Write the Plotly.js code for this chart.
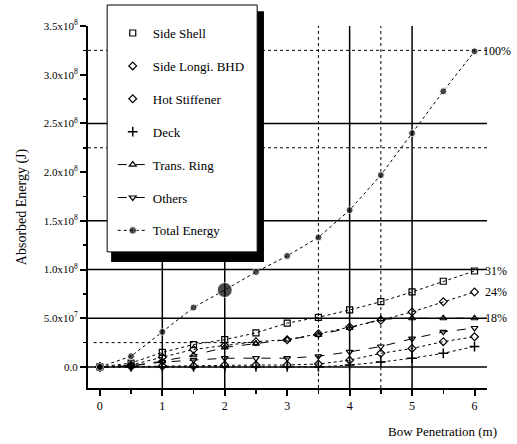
<!DOCTYPE html>
<html>
<head>
<meta charset="utf-8">
<script src="https://cdn.plot.ly/plotly-3.0.1.min.js"></script>
<style>html,body{margin:0;padding:0;background:#fff;}#chart{width:517px;height:444px;}</style>
</head>
<body>
<div id="chart"></div>
<script>
const penetration = [0, 0.5, 1, 1.5, 2, 2.5, 3, 3.5, 4, 4.5, 5, 5.5, 6];
const sideShell   = [0, 0.04e8, 0.15e8, 0.23e8, 0.28e8, 0.35e8, 0.45e8, 0.51e8, 0.585e8, 0.67e8, 0.77e8, 0.88e8, 0.985e8];
const sideLongi   = [0, 0.02e8, 0.10e8, 0.18e8, 0.22e8, 0.26e8, 0.28e8, 0.34e8, 0.41e8, 0.48e8, 0.565e8, 0.67e8, 0.77e8];
const hotStiff    = [0, 0.005e8, 0.01e8, 0.01e8, 0.02e8, 0.02e8, 0.02e8, 0.03e8, 0.07e8, 0.14e8, 0.19e8, 0.26e8, 0.31e8];
const deck        = [0, 0, 0, 0, 0, 0, 0, 0, 0.02e8, 0.05e8, 0.09e8, 0.14e8, 0.21e8];
const transRing   = [0, 0.01e8, 0.06e8, 0.12e8, 0.20e8, 0.24e8, 0.28e8, 0.33e8, 0.40e8, 0.49e8, 0.50e8, 0.50e8, 0.50e8];
const others      = [0, 0.01e8, 0.05e8, 0.07e8, 0.09e8, 0.09e8, 0.09e8, 0.11e8, 0.155e8, 0.21e8, 0.29e8, 0.36e8, 0.40e8];
const totalEnergy = [0, 0.11e8, 0.36e8, 0.61e8, 0.79e8, 0.975e8, 1.14e8, 1.33e8, 1.61e8, 1.97e8, 2.40e8, 2.83e8, 3.24e8];
const yTickVals = [0, 0.5e8, 1.0e8, 1.5e8, 2.0e8, 2.5e8, 3.0e8, 3.5e8];
const yTickText = ["0.0", "5.0x10<sup>7</sup>", "1.0x10<sup>8</sup>", "1.5x10<sup>8</sup>", "2.0x10<sup>8</sup>", "2.5x10<sup>8</sup>", "3.0x10<sup>8</sup>", "3.5x10<sup>8</sup>"];
const xTickVals = [0, 1, 2, 3, 4, 5, 6];
const shareLabels = ["100%", "31%", "24%", "18%"];

const serif = "Liberation Serif, Times New Roman, serif";
const ink = '#000';
function tr(name, y, symbol, dash, opts) {
  opts = opts || {};
  return {
    type: 'scatter', mode: 'lines+markers', name: name, x: penetration, y: y,
    legendgroup: name, showlegend: !opts.markerLegend,
    line: {color: ink, width: 1, dash: dash},
    marker: {symbol: symbol, size: opts.size || 6, color: ink, line: {color: ink, width: opts.lw || 1.2}},
    cliponaxis: false
  };
}
function legendOnly(name, symbol, size, lw) {
  return {type: 'scatter', mode: 'markers', name: name, x: [null], y: [null], legendgroup: name,
          marker: {symbol: symbol, size: size || 6, color: ink, line: {color: ink, width: lw || 1.2}}};
}
const totalTrace = tr('Total Energy', totalEnergy, 'circle', 'dot');
totalTrace.marker = {symbol: 'circle', size: totalEnergy.map((v, i) => i === 4 ? 15 : 7), color: ink};

const data = [
  tr('Side Shell', sideShell, 'square-open', 'dot', {markerLegend: true}),
  tr('Side Longi. BHD', sideLongi, 'diamond-open', 'dot', {markerLegend: true}),
  tr('Hot Stiffener', hotStiff, 'diamond-open', 'dot', {markerLegend: true}),
  tr('Deck', deck, 'cross-thin-open', 'dot', {markerLegend: true, size: 7, lw: 1.5}),
  legendOnly('Side Shell', 'square-open'),
  legendOnly('Side Longi. BHD', 'diamond-open'),
  legendOnly('Hot Stiffener', 'diamond-open'),
  legendOnly('Deck', 'cross-thin-open', 7, 1.5),
  tr('Trans. Ring', transRing, 'triangle-up-open', 'dash'),
  tr('Others', others, 'triangle-down-open', 'dash'),
  totalTrace
];

function hline(y, dash, width) {
  return {type: 'line', xref: 'paper', yref: 'y', x0: 0, x1: 1, y0: y, y1: y, layer: 'below',
          line: {color: ink, width: width || 1.5, dash: dash || 'solid'}};
}
function vline(x, dash, width) {
  return {type: 'line', xref: 'x', yref: 'paper', x0: x, x1: x, y0: 0, y1: 1, layer: 'below',
          line: {color: ink, width: width || 1.5, dash: dash || 'solid'}};
}
const shapes = [
  hline(0), hline(0.5e8), hline(1.0e8), hline(1.5e8), hline(2.5e8),
  hline(3.25e8, 'dot', 1), hline(2.25e8, 'dot', 1),
  {type: 'line', xref: 'x', yref: 'y', x0: -0.1, x1: 2.6, y0: 0.25e8, y1: 0.25e8, layer: 'below', line: {color: ink, width: 1, dash: 'dot'}},
  vline(1), vline(2), vline(4), vline(5),
  vline(3.5, 'dot', 1), vline(4.5, 'dot', 1),
  {type: 'rect', xref: 'paper', yref: 'paper', x0: 0.058, x1: 0.441, y0: 0.348, y1: 1.041, layer: 'above',
   fillcolor: ink, line: {width: 0}},
  {type: 'rect', xref: 'paper', yref: 'paper', x0: 0.048, x1: 0.424, y0: 0.376, y1: 1.058, layer: 'above',
   fillcolor: '#fff', line: {color: ink, width: 1}}
];

const annFont = {family: serif, size: 12, color: ink};
const annotations = [
  {x: 6, y: 3.24e8, xref: 'x', yref: 'y', text: shareLabels[0], showarrow: false, xanchor: 'left', xshift: 6, font: annFont},
  {x: 6, y: 0.985e8, xref: 'x', yref: 'y', text: shareLabels[1], showarrow: false, xanchor: 'left', xshift: 8, font: annFont},
  {x: 6, y: 0.77e8, xref: 'x', yref: 'y', text: shareLabels[2], showarrow: false, xanchor: 'left', xshift: 8, font: annFont},
  {x: 6, y: 0.50e8, xref: 'x', yref: 'y', text: shareLabels[3], showarrow: false, xanchor: 'left', xshift: 8, font: annFont},
  {x: 1.03, y: -0.119, xref: 'paper', yref: 'paper', text: 'Bow Penetration (m)', showarrow: false, xanchor: 'right', yanchor: 'middle', font: {family: serif, size: 13, color: ink}}
];

const layout = {
  width: 517, height: 444,
  margin: {l: 88, r: 30, t: 26, b: 56},
  paper_bgcolor: '#fff', plot_bgcolor: '#fff',
  font: {family: serif, color: ink, size: 12},
  showlegend: true,
  legend: {x: 0.062, y: 1.022, xanchor: 'left', yanchor: 'top', bgcolor: 'rgba(0,0,0,0)', borderwidth: 0,
           font: {family: serif, size: 13, color: ink}, tracegroupgap: 13, itemwidth: 30, maxheight: 1},
  xaxis: {range: [-0.19, 6.2], tickvals: xTickVals, ticks: 'outside', ticklen: 6, tickwidth: 2, tickcolor: ink,
          showline: true, linecolor: ink, linewidth: 2, showgrid: false, zeroline: false,
          tickfont: {family: serif, size: 12, color: ink},
          minor: {dtick: 0.5, ticks: 'outside', ticklen: 4, tickwidth: 1.5, tickcolor: ink, showgrid: false}},
  yaxis: {range: [-0.216e8, 3.5e8], tickvals: yTickVals, ticktext: yTickText, ticks: 'outside', ticklen: 6, tickwidth: 2, tickcolor: ink,
          showline: true, linecolor: ink, linewidth: 2, showgrid: false, zeroline: false,
          tickfont: {family: serif, size: 11, color: ink},
          title: {text: 'Absorbed Energy (J)', font: {family: serif, size: 14, color: ink}, standoff: 14},
          minor: {tickvals: [0.25e8, 0.75e8, 1.25e8, 1.75e8, 2.25e8, 2.75e8, 3.25e8], ticks: 'outside', ticklen: 3, tickwidth: 1.5, tickcolor: ink}},
  shapes: shapes,
  annotations: annotations
};
Plotly.newPlot('chart', data, layout, {displayModeBar: false, staticPlot: true});
</script>
</body>
</html>
